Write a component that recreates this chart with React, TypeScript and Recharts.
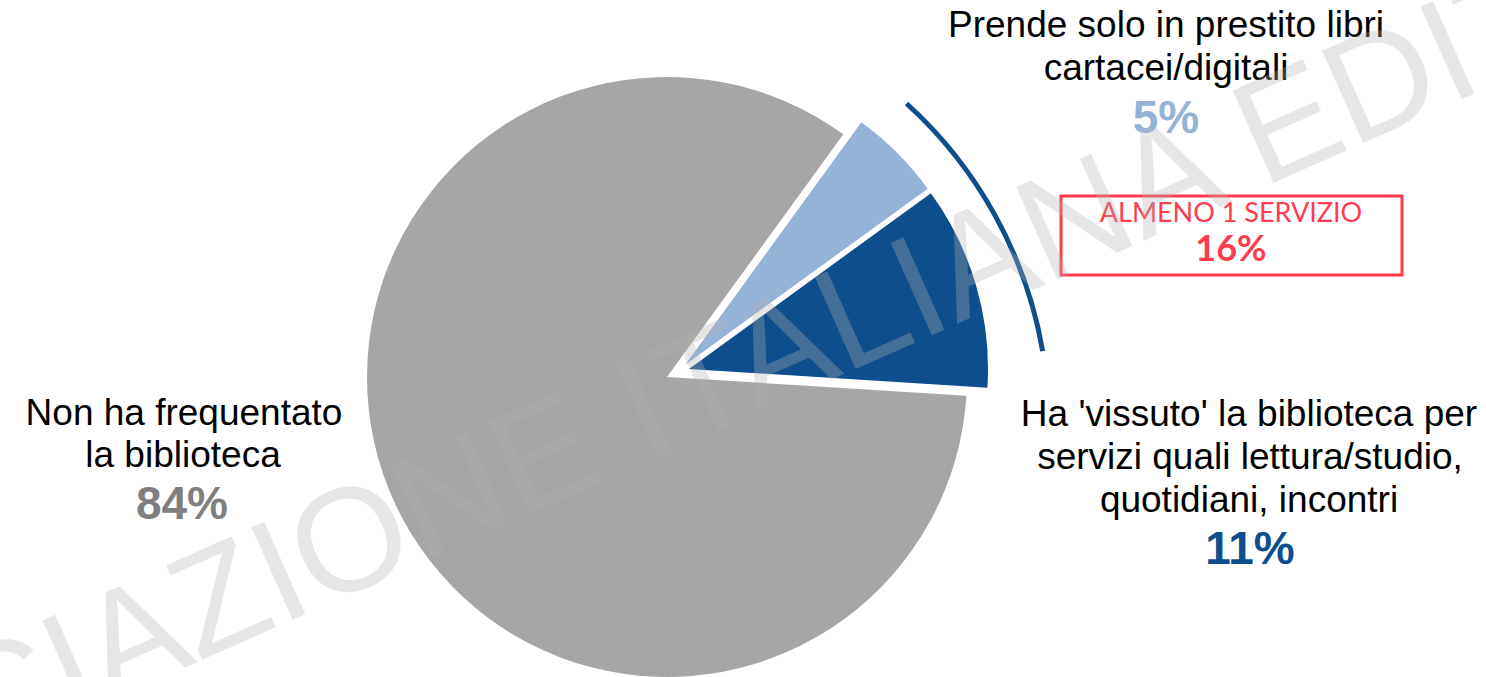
import { PieChart, Pie, Cell } from 'recharts'

// shares of the sample, in the order they are drawn (counter-clockwise from ~east)
const SEGMENTS = ['Ha vissuto la biblioteca', 'Solo prestito', 'Non ha frequentato']
const SHARES = [11, 5, 84]
const COLORS = ['#0F4E8C', '#95B3D7', '#A6A6A6']
const AT_LEAST_ONE = [16]

const data = SEGMENTS.map((name, i) => ({ name, value: SHARES[i] }))
const arcData = AT_LEAST_ONE.map((value) => ({ name: 'Almeno 1 servizio', value }))

const W = 1486
const H = 677
const START = -3.6
const FONT = '"Liberation Sans", Arial, sans-serif'

// each slice is its own Pie so it can be pulled out from the centre
const PIES = [
  { idx: 2, cx: 667, cy: 377, r: 300 },
  { idx: 1, cx: 685, cy: 365, r: 300 },
  { idx: 0, cx: 689, cy: 369, r: 299 },
]

export default function App() {
  return (
    <div style={{ position: 'absolute', left: 0, top: 0, width: W, height: H, background: '#fff', overflow: 'hidden' }}>
      <PieChart width={W} height={H} margin={{ top: 0, right: 0, bottom: 0, left: 0 }}>
        {PIES.map((p) => (
          <Pie
            key={p.idx}
            data={data}
            dataKey="value"
            cx={p.cx}
            cy={p.cy}
            outerRadius={p.r}
            startAngle={START}
            endAngle={START + 360}
            stroke="none"
            isAnimationActive={false}
          >
            {data.map((_, i) => (
              <Cell key={`c-${i}`} fill={i === p.idx ? COLORS[i] : 'transparent'} stroke="none" />
            ))}
          </Pie>
        ))}
        {/* bracket arc grouping the two blue slices */}
        <Pie
          data={arcData}
          dataKey="value"
          cx={615}
          cy={425}
          innerRadius={431.5}
          outerRadius={436.5}
          startAngle={9.8}
          endAngle={47.8}
          stroke="none"
          fill="#0F4E8C"
          isAnimationActive={false}
        />
      </PieChart>

      <svg width={W} height={H} style={{ position: 'absolute', left: 0, top: 0, pointerEvents: 'none' }}>
        <g fontFamily={FONT} textAnchor="middle">
          <text x={1166} y={37} fontSize={37} fill="#000">Prende solo in prestito libri</text>
          <text x={1166} y={80} fontSize={37} fill="#000">cartacei/digitali</text>
          <text x={1166} y={133} fontSize={46} fontWeight="bold" fill="#95B3D7">5%</text>

          <text x={1249} y={426} fontSize={37} fill="#000">Ha 'vissuto' la biblioteca per</text>
          <text x={1250} y={469} fontSize={37} fill="#000">servizi quali lettura/studio,</text>
          <text x={1249} y={512} fontSize={37} fill="#000">quotidiani, incontri</text>
          <text x={1250} y={564} fontSize={46} fontWeight="bold" fill="#0F4E8C">11%</text>

          <text x={184} y={425} fontSize={37} fill="#000">Non ha frequentato</text>
          <text x={183} y={467} fontSize={37} fill="#000">la biblioteca</text>
          <text x={182} y={519} fontSize={46} fontWeight="bold" fill="#7F7F7F">84%</text>
        </g>

        <rect x={1061} y={196} width={341} height={79} fill="none" stroke="#FF3B4D" strokeWidth={3} />
        <g fontFamily="Lato, sans-serif" textAnchor="middle" fill="#FF3B4D">
          <text x={1231} y={222} fontSize={27}>ALMENO 1 SERVIZIO</text>
          <text x={1231} y={261} fontSize={36} fontWeight="bold">16%</text>
        </g>

        <text
          x={703}
          y={437}
          textAnchor="middle"
          fontFamily={FONT}
          fontSize={147}
          fill="rgba(178,178,178,0.32)"
          transform="rotate(-24 703 437)"
        >
          ASSOCIAZIONE ITALIANA EDITORI
        </text>
      </svg>
    </div>
  )
}
